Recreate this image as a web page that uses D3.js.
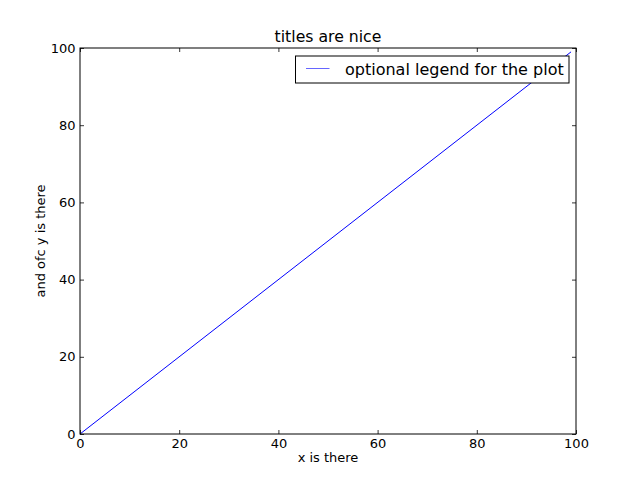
<!DOCTYPE html>
<html>
<head>
<meta charset="utf-8">
<script src="https://cdn.jsdelivr.net/npm/d3@7"></script>
<style>
  body { margin:0; background:#fff; }
  svg text { font-family: "DejaVu Sans", sans-serif; fill:#000; }
</style>
</head>
<body>
<div id="chart"></div>
<script>
// line data (x, y)
const xVals = [0, 99];
const yVals = [0, 99];
const xTicks = [0, 20, 40, 60, 80, 100];
const yTicks = [0, 20, 40, 60, 80, 100];
const titleText = "titles are nice";
const xLabel = "x is there";
const yLabel = "and ofc y is there";
const legendLabel = "optional legend for the plot";

const width = 640, height = 482;
const margin = {top:48, right:64, bottom:48, left:80};
const innerW = width - margin.left - margin.right;
const innerH = height - margin.top - margin.bottom;

const svg = d3.select("#chart").append("svg")
  .attr("width", width).attr("height", height);

const g = svg.append("g").attr("transform", `translate(${margin.left},${margin.top})`);

const x = d3.scaleLinear().domain([0,100]).range([0, innerW]);
const y = d3.scaleLinear().domain([0,100]).range([innerH, 0]);

const lineColor = "#0000ff";

// line
const pts = xVals.map((d,i)=>[d, yVals[i]]);
g.append("path")
  .datum(pts)
  .attr("fill","none")
  .attr("stroke", lineColor)
  .attr("stroke-width", 1)
  .attr("d", d3.line().x(d=>x(d[0])).y(d=>y(d[1])));

// axes: ticks pointing inward on all four sides, labels bottom/left only
const fs = "13px";
const axBottom = g.append("g").attr("transform", `translate(0,${innerH})`)
  .call(d3.axisBottom(x).tickValues(xTicks).tickSizeInner(-4).tickSizeOuter(0).tickPadding(4.5));
const axTop = g.append("g")
  .call(d3.axisTop(x).tickValues(xTicks).tickSizeInner(-4).tickSizeOuter(0).tickFormat(""));
const axLeft = g.append("g")
  .call(d3.axisLeft(y).tickValues(yTicks).tickSizeInner(-4).tickSizeOuter(0).tickPadding(4.5));
const axRight = g.append("g").attr("transform", `translate(${innerW},0)`)
  .call(d3.axisRight(y).tickValues(yTicks).tickSizeInner(-4).tickSizeOuter(0).tickFormat(""));

[axBottom, axTop, axLeft, axRight].forEach(a => {
  a.select(".domain").remove();
  a.selectAll("line").attr("stroke","#000").attr("stroke-width",0.8);
  a.selectAll("text").style("font-size", fs).style("font-family","DejaVu Sans");
});

// frame
g.append("rect")
  .attr("x",0).attr("y",0).attr("width",innerW).attr("height",innerH)
  .attr("fill","none").attr("stroke","#000").attr("stroke-width",1);

// title and labels
svg.append("text")
  .attr("x", margin.left + innerW/2).attr("y", 42)
  .attr("text-anchor","middle").style("font-size","15.7px")
  .text(titleText);

svg.append("text")
  .attr("x", margin.left + innerW/2).attr("y", 462)
  .attr("text-anchor","middle").style("font-size","13px")
  .text(xLabel);

svg.append("text")
  .attr("transform", `translate(45,${margin.top + innerH/2}) rotate(-90)`)
  .attr("text-anchor","middle").style("font-size","13px")
  .text(yLabel);

// legend
const lg = g.append("g").attr("transform", "translate(215.5,8)");
lg.append("rect")
  .attr("x",0).attr("y",0).attr("width",273.5).attr("height",27)
  .attr("fill","#fff").attr("stroke","#000").attr("stroke-width",1);
lg.append("line")
  .attr("x1",10.5).attr("x2",34).attr("y1",12.5).attr("y2",12.5)
  .attr("stroke", lineColor).attr("stroke-opacity",0.6).attr("stroke-width",1);
lg.append("text")
  .attr("x",49.5).attr("y",13).attr("dy","0.35em")
  .style("font-size","16px")
  .text(legendLabel);
</script>
</body>
</html>
